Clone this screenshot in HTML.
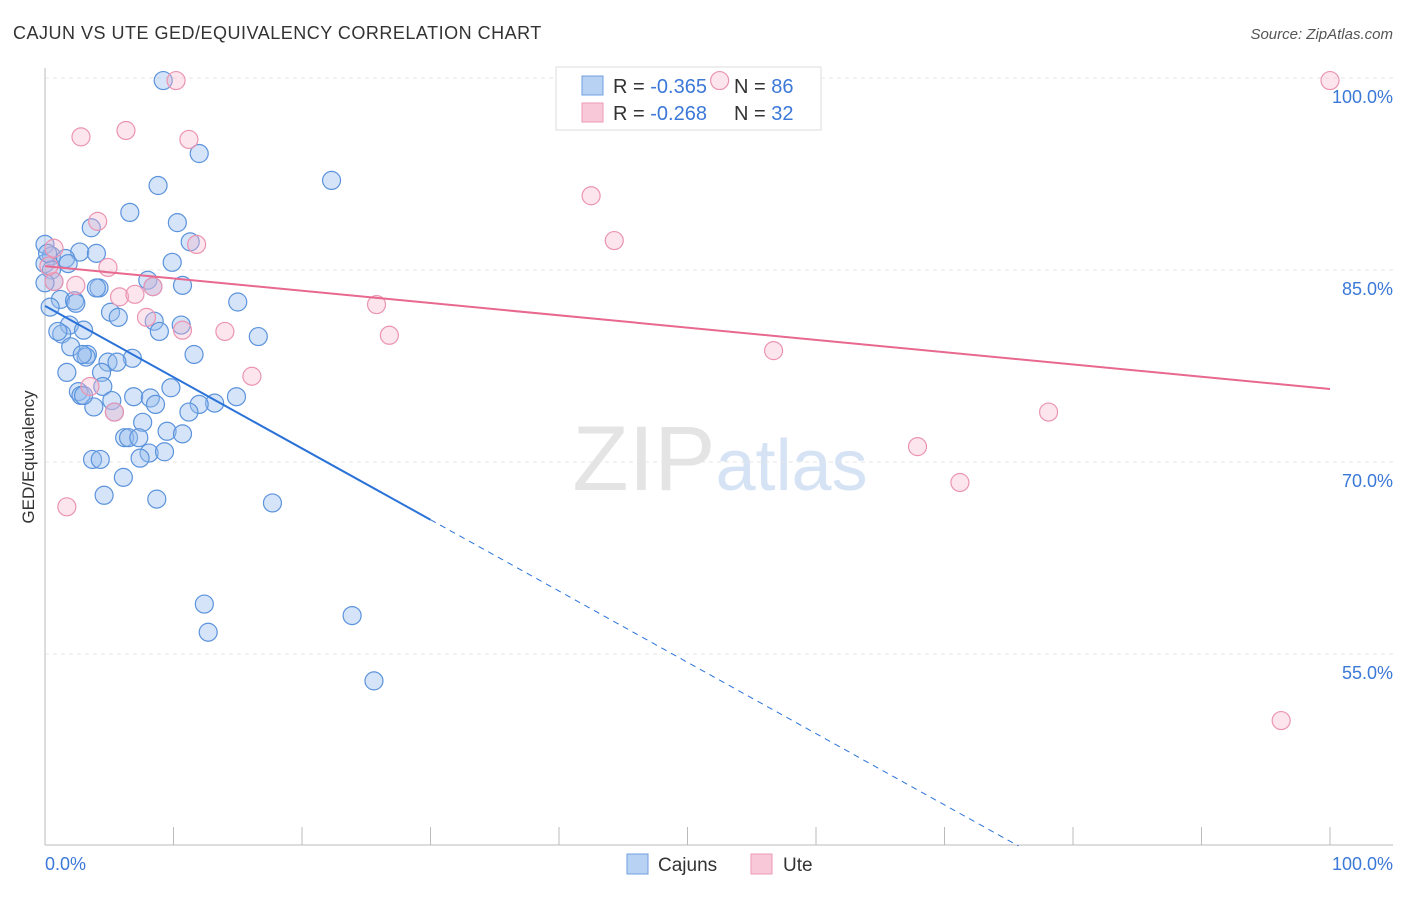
<!DOCTYPE html>
<html><head><meta charset="utf-8"><style>
body{margin:0;background:#fff;font-family:"Liberation Sans",sans-serif}
svg text{font-family:"Liberation Sans",sans-serif}
</style></head><body>
<svg id="c" width="1406" height="892">
<text x="13" y="39" font-size="18" fill="#333" letter-spacing="0.5">CAJUN VS UTE GED/EQUIVALENCY CORRELATION CHART</text>
<text x="1393" y="39" font-size="15" fill="#555" font-style="italic" text-anchor="end">Source: ZipAtlas.com</text>
<text x="720" y="490" font-size="92" fill="#e4e4e4" text-anchor="middle" font-family="Liberation Serif">ZIP<tspan fill="#d6e3f5" font-family="Liberation Sans" font-size="72">atlas</tspan></text>
<text transform="translate(34,457) rotate(-90)" font-size="17" fill="#333" text-anchor="middle">GED/Equivalency</text>
<g id="grid"></g>
<g>
<rect x="556" y="67" width="265" height="63" fill="#fff" stroke="#ddd"/>
<rect x="582" y="76" width="21" height="19" fill="#b8d2f3" stroke="#6f9fe0"/>
<rect x="582" y="103" width="21" height="19" fill="#f9c8d8" stroke="#ec9ab6"/>
<text x="613" y="93" font-size="20" fill="#333">R = <tspan fill="#3b78d8">-0.365</tspan></text>
<text x="734" y="93" font-size="20" fill="#333">N = <tspan fill="#3b78d8">86</tspan></text>
<text x="613" y="120" font-size="20" fill="#333">R = <tspan fill="#3b78d8">-0.268</tspan></text>
<text x="734" y="120" font-size="20" fill="#333">N = <tspan fill="#3b78d8">32</tspan></text>
</g>
<g id="pts"></g><g id="lines"></g>
<g>
<rect x="627" y="854" width="21" height="20" fill="#b8d2f3" stroke="#6f9fe0"/>
<text x="658" y="871" font-size="19" fill="#333">Cajuns</text>
<rect x="751" y="854" width="21" height="20" fill="#f9c8d8" stroke="#ec9ab6"/>
<text x="783" y="871" font-size="19" fill="#333">Ute</text>
</g>
</svg>
<script>
const yTicks=[100,85,70,55];
const yTickLabels=["100.0%","85.0%","70.0%","55.0%"];
const xTicks=[0,10,20,30,40,50,60,70,80,90,100];
const cajunX=[9.2,12.0,8.8,22.3,6.6,10.3,3.6,11.3,0,2.7,4.0,0.5,1.6,9.9,0,1.8,0.5,8.0,10.7,4.2,4.0,0.7,1.2,2.3,2.4,15.0,0.4,5.1,5.7,8.5,1.9,10.6,3.0,1.3,8.9,16.6,2.0,11.6,3.3,3.2,6.8,4.9,5.6,1.7,4.4,4.5,2.6,9.8,2.8,6.9,8.2,14.9,5.2,8.6,3.8,13.2,12.0,11.2,5.4,7.6,9.5,10.7,6.2,6.5,7.3,8.1,9.3,7.4,3.7,4.3,6.1,4.6,8.7,17.7,12.4,23.9,12.7,25.6,3.0,1.0,2.9,0,0.2,8.4];
const cajunY=[99.8,94.1,91.6,92.0,89.5,88.7,88.3,87.2,87.0,86.4,86.3,86.1,85.9,85.6,85.5,85.5,85.0,84.2,83.8,83.6,83.6,84.1,82.7,82.6,82.4,82.5,82.1,81.7,81.3,81.0,80.7,80.7,80.3,80.0,80.2,79.8,79.0,78.4,78.4,78.2,78.1,77.8,77.8,77.0,77.0,75.9,75.5,75.8,75.2,75.1,75.0,75.1,74.8,74.5,74.3,74.6,74.5,73.9,73.9,73.1,72.4,72.2,71.9,71.9,71.9,70.7,70.8,70.3,70.2,70.2,68.8,67.4,67.1,66.8,58.9,58.0,56.7,52.9,75.2,80.2,78.4,84.0,86.3,83.7];
const uteX=[10.2,52.5,100,2.8,6.3,11.2,42.5,4.1,44.3,11.8,0.7,4.9,2.4,8.4,5.8,7.0,7.9,25.8,10.7,14.0,26.8,56.7,16.1,3.5,5.4,78.1,67.9,71.2,1.7,96.2,0.7,0.3];
const uteY=[99.8,99.8,99.8,95.4,95.9,95.2,90.8,88.8,87.3,87.0,86.7,85.2,83.8,83.7,82.9,83.1,81.3,82.3,80.3,80.2,79.9,78.7,76.7,75.9,73.9,73.9,71.2,68.4,66.5,49.8,84.1,85.3];
const cajunTrend=[82.2,-0.557];
const uteTrend=[85.3,-0.096];
const X=v=>45+v*12.85, Y=v=>78+(100-v)*12.8;
const NS="http://www.w3.org/2000/svg";
function mk(t,a,p){const e=document.createElementNS(NS,t);for(const k in a)e.setAttribute(k,a[k]);p.appendChild(e);return e;}
const g=document.getElementById('grid');
yTicks.forEach((t,i)=>{
 const l=mk('line',{x1:45,x2:1393,y1:Y(t),y2:Y(t),stroke:'#e6e6e6','stroke-dasharray':'4,4'},g);
 
 
 const tx=mk('text',{x:1393,y:Y(t)+25,'font-size':18,fill:'#3b78d8','text-anchor':'end'},g);
 tx.textContent=yTickLabels[i];
 
 
});
const ax=mk('line',{x1:45,x2:45,y1:68,y2:845,stroke:'#bbb'},g);


const bx=mk('line',{x1:45,x2:1393,y1:845,y2:845,stroke:'#bbb'},g);


xTicks.forEach(t=>{
 const l=mk('line',{x1:X(t),x2:X(t),y1:827,y2:845,stroke:'#bbb'},g);
 
 
});
[[0,"0.0%","start",45],[100,"100.0%","end",1393]].forEach(a=>{
 const tx=mk('text',{x:a[3],y:870,'font-size':18,fill:'#3b78d8','text-anchor':a[2]},g);
 tx.textContent=a[1];
 
 
});
const p=document.getElementById('pts');
cajunX.forEach((x,i)=>{
 const c=mk('circle',{cx:X(x),cy:Y(cajunY[i]),r:9,fill:'rgba(150,188,238,0.4)',stroke:'#5b93dc','stroke-width':1.2},p);
 
 
});
uteX.forEach((x,i)=>{
 const c=mk('circle',{cx:X(x),cy:Y(uteY[i]),r:9,fill:'rgba(246,180,202,0.35)',stroke:'#eb94b2','stroke-width':1.2},p);
 
 
});
const L=document.getElementById('lines');
const f=(tr,x)=>tr[0]+tr[1]*x;
const xEnd=(40-cajunTrend[0])/cajunTrend[1];
const l1=mk('line',{x1:X(0),y1:Y(f(cajunTrend,0)),x2:X(30),y2:Y(f(cajunTrend,30)),stroke:'#2a72d8','stroke-width':2},L);


const l2=mk('line',{x1:X(30),y1:Y(f(cajunTrend,30)),x2:X(xEnd),y2:Y(40),stroke:'#2a72d8','stroke-width':1,'stroke-dasharray':'6,5'},L);


const l3=mk('line',{x1:X(0),y1:Y(f(uteTrend,0)),x2:X(100),y2:Y(f(uteTrend,100)),stroke:'#e8688f','stroke-width':2},L);


</script>
</body></html>
